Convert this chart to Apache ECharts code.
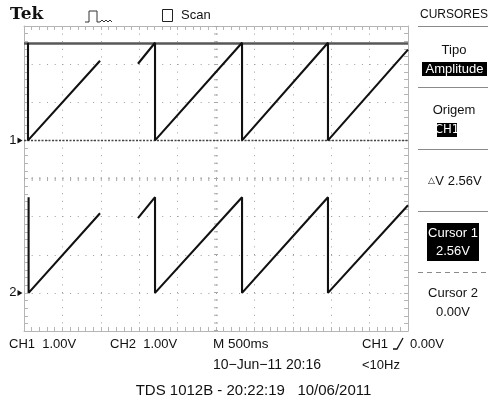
<!DOCTYPE html>
<html><head><meta charset="utf-8">
<script src="https://cdn.jsdelivr.net/npm/echarts@6/dist/echarts.min.js"></script>
<style>html,body{margin:0;padding:0;background:#fff}#c{width:488px;height:402px}</style>
</head><body><div id="c"></div>
<script>
// ---- data (time in s, voltage in V; null = scan gap) ----
const timeCh1 = [0.052, 0.052, 0.990, null, 1.484, 1.706, 1.706, 2.839, 2.839, 3.958, 3.958, 5.000];
const voltCh1 = [2.56, 0.00, 2.09, null, 2.01, 2.56, 0.00, 2.56, 0.00, 2.56, 0.00, 2.38];
const timeCh2 = [0.060, 0.060, 0.990, null, 1.484, 1.706, 1.706, 2.839, 2.839, 3.958, 3.958, 5.000];
const voltCh2 = [2.51, 0.00, 2.09, null, 1.96, 2.51, 0.00, 2.51, 0.00, 2.51, 0.00, 2.30];
const cursorVolts = [2.56, 0.00];          // Cursor 1, Cursor 2 (on CH1)
const chScale = [1.00, 1.00];              // V/div
const chPosition = [1, -3];                // ground position in divisions
const secPerDiv = 0.5;
const numDivX = 10, numDivY = 8;

const FONT = "'Liberation Sans', Arial, sans-serif";
const NARROW = "'Liberation Sans Narrow', 'DejaVu Sans Condensed', 'Liberation Sans', sans-serif";

function toDiv(v, ch){ return v === null ? '-' : v / chScale[ch] + chPosition[ch]; }
function build(ts, vs, ch){ return ts.map((t,i)=> t===null ? [null,'-'] : [t, toDiv(vs[i], ch)]); }

const chart = echarts.init(document.getElementById('c'), null, {renderer:'canvas'});

const borderColor = '#b5b5b5';
const dotColor = '#9c9c9c';
function axisCommon(){
  return {
    axisLine:{show:true, onZero:false, lineStyle:{color:borderColor, width:1}},
    axisTick:{show:true, inside:true, length:4, lineStyle:{color:borderColor}},
    minorTick:{show:true, splitNumber:5, length:4, lineStyle:{color:borderColor}},
    axisLabel:{show:false}
  };
}

function txt(x, y, s, opts){
  opts = opts || {};
  return {type:'text', x:x, y:y, silent:true, z:10,
    style:Object.assign({text:s, font:(opts.weight||'normal')+' '+(opts.size||13)+'px '+(opts.family||FONT),
      fill:opts.fill||'#111', textAlign:opts.align||'left', textVerticalAlign:'middle',
      align:opts.align||'left', verticalAlign:'middle'}, opts.rich?{rich:opts.rich}:{})};
}
function hline(y, x1, x2, dash){
  return {type:'line', silent:true, shape:{x1:x1,y1:y,x2:x2,y2:y}, style:{stroke:'#8a8a8a', lineWidth:1, lineDash:dash||null}};
}
function box(x, y, w, h){
  return {type:'rect', silent:true, shape:{x:x,y:y,width:w,height:h}, style:{fill:'#000'}};
}

const xMax = numDivX * secPerDiv;
const option = {
  animation:false,
  backgroundColor:'#fff',
  grid:{left:24, top:26, width:384, height:305},
  xAxis:[
    Object.assign({type:'value', min:0, max:xMax, interval:secPerDiv, position:'bottom',
      splitLine:{show:true, lineStyle:{color:dotColor, width:1, type:[1, 6.6]}}}, axisCommon()),
    Object.assign({type:'value', min:0, max:xMax, interval:secPerDiv, position:'top',
      splitLine:{show:false}}, axisCommon())
  ],
  yAxis:[
    Object.assign({type:'value', min:-numDivY/2, max:numDivY/2, interval:1, position:'left',
      splitLine:{show:true, lineStyle:{color:dotColor, width:1, type:[1, 6.68]}}}, axisCommon()),
    Object.assign({type:'value', min:-numDivY/2, max:numDivY/2, interval:1, position:'right',
      splitLine:{show:false}}, axisCommon())
  ],
  series:[
    {
      name:'CH1', type:'line', xAxisIndex:0, yAxisIndex:0, showSymbol:false, symbol:'none',
      connectNulls:false, silent:true, z:5,
      lineStyle:{color:'#111', width:2.1},
      data:build(timeCh1, voltCh1, 0),
      markLine:{
        silent:true, symbol:'none', animation:false, label:{show:false},
        data:[
          {xAxis:xMax/2, lineStyle:{color:'#a8a8a8', width:4, type:[1, 6.6]}},
          {yAxis:0, lineStyle:{color:'#a8a8a8', width:4, type:[1, 6.68]}},
          {yAxis:toDiv(cursorVolts[0],0), lineStyle:{color:'#575757', width:2.5, type:'solid'}},
          {yAxis:toDiv(cursorVolts[1],0), lineStyle:{color:'#444', width:1.3, type:[2, 1.5]}}
        ]
      },
      markPoint:{
        silent:true, animation:false,
        data:[{coord:[0, chPosition[0]]}],
        symbol:'triangle', symbolSize:[6,5], symbolRotate:-90, symbolOffset:[-4,0],
        itemStyle:{color:'#111'},
        label:{show:true, formatter:'1', position:'left', distance:1, color:'#111', fontSize:13, fontFamily:FONT}
      }
    },
    {
      name:'CH2', type:'line', xAxisIndex:0, yAxisIndex:0, showSymbol:false, symbol:'none',
      connectNulls:false, silent:true, z:5,
      lineStyle:{color:'#111', width:2.1},
      data:build(timeCh2, voltCh2, 1),
      markPoint:{
        silent:true, animation:false,
        data:[{coord:[0, chPosition[1]]}],
        symbol:'triangle', symbolSize:[6,5], symbolRotate:-90, symbolOffset:[-4,0],
        itemStyle:{color:'#111'},
        label:{show:true, formatter:'2', position:'left', distance:1, color:'#111', fontSize:13, fontFamily:FONT}
      }
    }
  ],
  graphic:[
    txt(10, 15, 'Tek', {size:17, weight:'bold', family:"'DejaVu Serif', serif"}),
    {type:'polyline', silent:true, shape:{points:[[85,22],[89,22],[89,11],[97,11],[97,22],[100,22],[102,20],[104,22],[106,20],[108,22],[110,20],[112,22]]},
      style:{stroke:'#333', lineWidth:1, fill:null}},
    {type:'rect', silent:true, shape:{x:162.5, y:9.5, width:10, height:12}, style:{stroke:'#222', lineWidth:1, fill:null}},
    txt(181, 15, 'Scan', {size:13}),
    // right menu
    txt(420, 15, 'CURSORES', {size:12}),
    hline(26.5, 418, 488),
    txt(454, 50, 'Tipo', {align:'center'}),
    box(422, 62, 65, 14),
    txt(454.5, 69, 'Amplitude', {align:'center', fill:'#fff'}),
    hline(87.5, 418, 488),
    txt(454, 110, 'Origem', {align:'center'}),
    box(437, 123, 20, 14),
    txt(447, 130, 'CH1', {align:'center', fill:'#fff', family:NARROW}),
    hline(149.5, 418, 488),
    txt(455, 181, '{s|△}V 2.56V', {align:'center', rich:{s:{fontSize:9, fontFamily:FONT, fill:'#111'}}}),
    hline(211.5, 418, 488),
    box(427, 223, 52, 38),
    txt(453, 233, 'Cursor 1', {align:'center', fill:'#fff'}),
    txt(453, 251, '2.56V', {align:'center', fill:'#fff'}),
    hline(272.5, 418, 488, [5,4]),
    txt(453, 293, 'Cursor 2', {align:'center'}),
    txt(453, 312, '0.00V', {align:'center'}),
    // bottom status
    txt(9, 344, 'CH1  1.00V'),
    txt(110, 344, 'CH2  1.00V'),
    txt(213, 344, 'M 500ms', {size:13.5}),
    txt(362, 344, 'CH1'),
    {type:'polyline', silent:true, shape:{points:[[393,349],[397,349],[403,338]]}, style:{stroke:'#111', lineWidth:1.3, fill:null}},
    txt(410, 344, '0.00V'),
    txt(213, 365, '10−Jun−11 20:16', {size:14}),
    txt(362, 365, '<10Hz'),
    txt(253.5, 391, 'TDS 1012B - 20:22:19   10/06/2011', {align:'center', size:15})
  ]
};
chart.setOption(option);
</script></body></html>
